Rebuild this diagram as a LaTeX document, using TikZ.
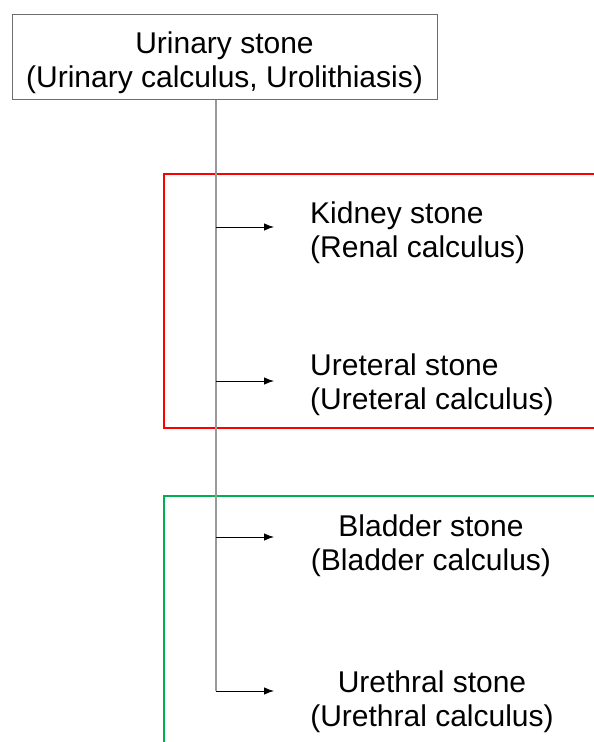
\documentclass[tikz,border=0pt]{standalone}
\usepackage{fontspec}
\setmainfont{Liberation Sans}
\usetikzlibrary{arrows.meta}
\definecolor{boxgrey}{HTML}{6E6E6E}
\definecolor{trunkgrey}{HTML}{9A9A9A}
\definecolor{grpred}{HTML}{FF0000}
\definecolor{grpgreen}{HTML}{00B050}
\tikzset{
  lbl/.style={inner sep=0pt, font=\fontsize{30}{34.5}\selectfont},
  branch/.style={draw=black, line width=0.9pt, -{Latex[length=10pt,width=7.5pt]}},
  trunk/.style={draw=trunkgrey, line width=1.5pt},
  grp/.style={line width=1.2pt},
}
\begin{document}
\begin{tikzpicture}[x=1pt,y=-1pt]
\useasboundingbox (0,0) rectangle (594,742);
% group frames
\draw[grp, grpred] (600,174) -- (164,174) -- (164,428) -- (600,428);
\draw[grp, grpgreen] (600,496) -- (164,496) -- (164,750);
% top box
\node[draw=boxgrey, line width=1pt, minimum width=425pt, minimum height=85pt, inner sep=0pt] (top) at (224.5,56.5) {};
\node[lbl, align=center, anchor=north] (toptext) at (224.5,31.5) {Urinary stone\\(Urinary calculus, Urolithiasis)};
% children
\node[lbl, align=left, anchor=north west] (kidney) at (310,201.5) {Kidney stone\\(Renal calculus)};
\node[lbl, align=left, anchor=north west] (ureteral) at (310,353.5) {Ureteral stone\\(Ureteral calculus)};
\node[lbl, align=center, anchor=north] (bladder) at (431,514.5) {Bladder stone\\(Bladder calculus)};
\node[lbl, align=center, anchor=north] (urethral) at (432,670.5) {Urethral stone\\(Urethral calculus)};
% trunk and branch points
\coordinate (t0) at (216,99);
\coordinate (b1) at (216,227);
\coordinate (b2) at (216,381);
\coordinate (b3) at (216,537);
\coordinate (b4) at (216,691);
\coordinate (e1) at (274,227);
\coordinate (e2) at (274,381);
\coordinate (e3) at (274,537);
\coordinate (e4) at (274,691);
\draw[trunk] (top.south -| t0) -- (b4);
\draw[branch] (b1) -- (e1);
\draw[branch] (b2) -- (e2);
\draw[branch] (b3) -- (e3);
\draw[branch] (b4) -- (e4);
\end{tikzpicture}
\end{document}
